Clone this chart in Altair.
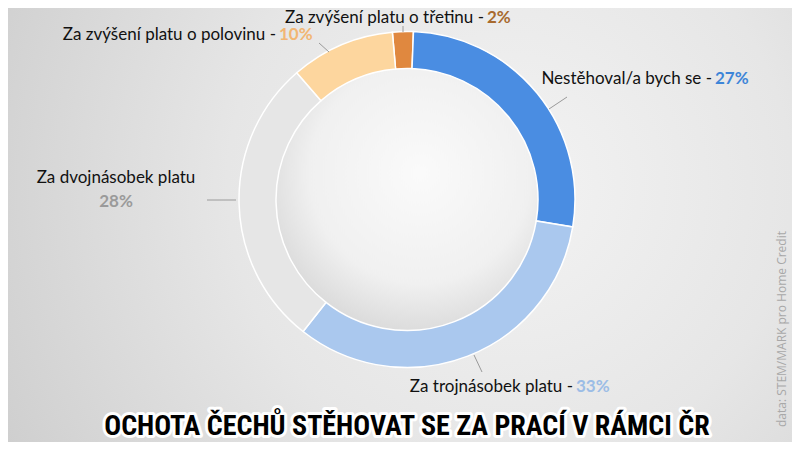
import math
import altair as alt
import pandas as pd

# ---- data ----
categories = ["Za zvýšení platu o třetinu", "Nestěhoval/a bych se", "Za trojnásobek platu",
              "Za dvojnásobek platu", "Za zvýšení platu o polovinu"]
values = [2, 27, 33, 28, 10]
order = [0, 1, 2, 3, 4]
slice_colors = ["#e0883f", "#4a8de2", "#aac8ee", "#e6e6e6", "#fdd69e"]
pct_colors = ["#a86a2e", "#3d85d8", "#9cbde6", "#9a9a9a", "#f2b673"]
title_text = "OCHOTA ČECHŮ STĚHOVAT SE ZA PRACÍ V RÁMCI ČR"
source_text = "data: STEM/MARK pro Home Credit"

df = pd.DataFrame({"cat": categories, "val": values, "ord": order})

W, H = 784, 434
CX, CY = 399, 191.5
R_OUT, R_IN = 168, 131
start = math.radians(-5)

bg = alt.Chart(pd.DataFrame({"a": [0]})).mark_rect(
    fill={"gradient": "radial",
          "stops": [{"offset": 0, "color": "#f3f3f3"}, {"offset": 0.5, "color": "#e6e6e6"},
                    {"offset": 1, "color": "#cfcfcf"}],
          "x1": 0.64, "y1": 0.45, "x2": 0.64, "y2": 0.45, "r1": 0, "r2": 0.72}
).encode(x=alt.value(0), x2=alt.value(W), y=alt.value(0), y2=alt.value(H))

sphere = alt.Chart(pd.DataFrame({"a": [0]})).mark_arc(
    theta=0, theta2=2 * math.pi, radius=R_IN,
    fill={"gradient": "radial",
          "stops": [{"offset": 0, "color": "#fafafa"}, {"offset": 0.7, "color": "#f0f0f0"},
                    {"offset": 1, "color": "#dcdcdc"}],
          "x1": 0.55, "y1": 0.4, "x2": 0.55, "y2": 0.4, "r1": 0, "r2": 0.6}
).encode(x=alt.value(CX), y=alt.value(CY))

donut = alt.Chart(df).mark_arc(
    radius=R_OUT, radius2=R_IN, stroke="white", strokeWidth=1.5
).encode(
    theta=alt.Theta("val:Q", stack=True,
                    scale=alt.Scale(range=[start, start + 2 * math.pi])),
    order=alt.Order("ord:Q"),
    color=alt.Color("cat:N", scale=alt.Scale(domain=categories, range=slice_colors), legend=None),
    x=alt.value(CX), y=alt.value(CY),
)

FONT = "Lato"
FS = 17

def text_layer(s, x, y, align, color="#111111", bold=False, size=FS, font=FONT):
    return alt.Chart(pd.DataFrame({"t": [s]})).mark_text(
        align=align, baseline="alphabetic", font=font, fontSize=size,
        fontWeight="bold" if bold else "normal", color=color
    ).encode(x=alt.value(x), y=alt.value(y), text="t:N")

def line_layer(x1, y1, x2, y2):
    return alt.Chart(pd.DataFrame({"a": [0]})).mark_rule(color="#9a9a9a", strokeWidth=1).encode(
        x=alt.value(x1), y=alt.value(y1), x2=alt.value(x2), y2=alt.value(y2))

pcts = [f"{v}%" for v in values]

labels = [
    text_layer(categories[0] + " -", 476, 15, "right"),
    text_layer(pcts[0], 479, 15, "left", pct_colors[0], True),
    text_layer(categories[1] + " -", 704, 76, "right"),
    text_layer(pcts[1], 707, 76, "left", pct_colors[1], True),
    text_layer(categories[2] + " -", 565, 384, "right"),
    text_layer(pcts[2], 568, 384, "left", pct_colors[2], True),
    text_layer(categories[3], 108, 175, "center"),
    text_layer(pcts[3], 108, 199, "center", pct_colors[3], True),
    text_layer(categories[4] + " -", 268, 32, "right"),
    text_layer(pcts[4], 271, 32, "left", pct_colors[4], True),
]

lines = [
    line_layer(395, 18, 395, 24),
    line_layer(559, 89, 541, 101),
    line_layer(466, 347, 474, 364),
    line_layer(199, 192, 228, 192),
    line_layer(311, 35, 321, 44),
]

TFONT = "Roboto Condensed, Noto Sans Condensed, Open Sans Condensed, DejaVu Sans Condensed"
TSIZE = 28
title_halo = alt.Chart(pd.DataFrame({"t": [title_text]})).mark_text(
    align="center", baseline="alphabetic", font=TFONT, fontSize=TSIZE, fontWeight="bold",
    color="white", stroke="white", strokeWidth=6, strokeJoin="round"
).encode(x=alt.value(CX), y=alt.value(427), text="t:N")
title = alt.Chart(pd.DataFrame({"t": [title_text]})).mark_text(
    align="center", baseline="alphabetic", font=TFONT, fontSize=TSIZE, fontWeight="bold",
    color="#000000"
).encode(x=alt.value(CX), y=alt.value(427), text="t:N")

source = alt.Chart(pd.DataFrame({"t": [source_text]})).mark_text(
    align="center", baseline="middle", angle=270, font="Open Sans", fontSize=12,
    color="#a8a8a8"
).encode(x=alt.value(774), y=alt.value(321), text="t:N")

chart = alt.layer(bg, sphere, donut, *lines, *labels, title_halo, title, source).properties(
    width=W, height=H, padding=0, autosize=alt.AutoSizeParams(type="none"),
    background="#e4e4e4"
).configure_view(stroke=None)

chart.save("out.html", embed_options={"renderer": "svg", "actions": False})
